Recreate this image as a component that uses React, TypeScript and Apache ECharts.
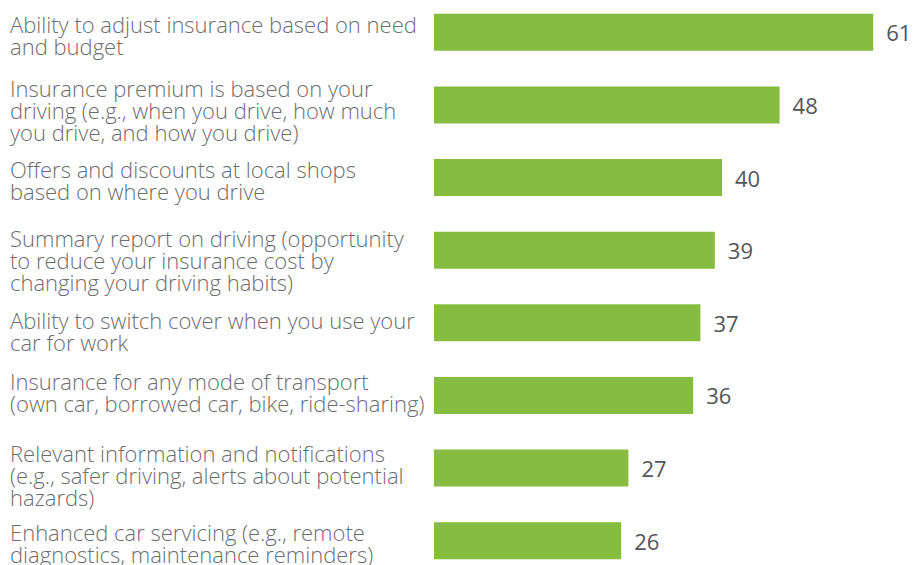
import React, { useEffect, useRef } from "react";
import * as echarts from "echarts";

const categories = [
  "Ability to adjust insurance based on need\nand budget",
  "Insurance premium is based on your\ndriving (e.g., when you drive, how much\nyou drive, and how you drive)",
  "Offers and discounts at local shops\nbased on where you drive",
  "Summary report on driving (opportunity\nto reduce your insurance cost by\nchanging your driving habits)",
  "Ability to switch cover when you use your\ncar for work",
  "Insurance for any mode of transport\n(own car, borrowed car, bike, ride-sharing)",
  "Relevant information and notifications\n(e.g., safer driving, alerts about potential\nhazards)",
  "Enhanced car servicing (e.g., remote\ndiagnostics, maintenance reminders)",
];

const values = [61, 48, 40, 39, 37, 36, 27, 26];

// style only: per-label vertical nudge (spacer height; negative = spacer below)
const labelNudge = [5, 11, 4, 20, 17, -6, 14, 4];

const rich: Record<string, any> = {
  t: {
    fontFamily: "Open Sans",
    fontWeight: 300,
    fontSize: 22,
    lineHeight: 22,
    color: "#6d6e70",
  },
};
labelNudge.forEach((n, i) => {
  const h = Math.max(1, Math.abs(n));
  rich["sp" + i] = { fontSize: 1, lineHeight: h, height: h };
});

export default function App() {
  const ref = useRef<HTMLDivElement>(null);
  useEffect(() => {
    if (!ref.current) return;
    const chart = echarts.init(ref.current, undefined, { renderer: "svg" });
    chart.setOption({
      animation: false,
      backgroundColor: "#ffffff",
      grid: { left: 434, top: 0, height: 581, width: 468 },
      xAxis: {
        type: "value",
        min: 0,
        max: 65,
        show: false,
      },
      yAxis: {
        type: "category",
        data: categories,
        inverse: true,
        axisLine: { show: false },
        axisTick: { show: false },
        splitLine: { show: false },
        axisLabel: {
          align: "left",
          margin: 424,
          fontFamily: "Open Sans",
          fontSize: 22,
          lineHeight: 22,
          color: "#6d6e70",
          rich,
          formatter: (v: string, i: number) => {
            const body = v
              .split("\n")
              .map((l) => "{t|" + l + "}")
              .join("\n");
            const sp = "{sp" + i + "| }";
            return labelNudge[i] >= 0 ? sp + "\n" + body : body + "\n" + sp;
          },
        },
      },
      series: [
        {
          type: "bar",
          data: values,
          barWidth: 37,
          itemStyle: { color: "#86bc40" },
          label: {
            show: true,
            position: "right",
            distance: 13,
            fontFamily: "Open Sans",
            fontSize: 22,
            color: "#53565a",
          },
        },
      ],
    });
    return () => chart.dispose();
  }, []);
  return (
    <div
      style={{
        position: "absolute",
        left: 0,
        top: 0,
        width: 913,
        height: 565,
        overflow: "hidden",
      }}
    >
      <div
        ref={ref}
        style={{ position: "absolute", left: 0, top: -4, width: 913, height: 581 }}
      />
    </div>
  );
}
